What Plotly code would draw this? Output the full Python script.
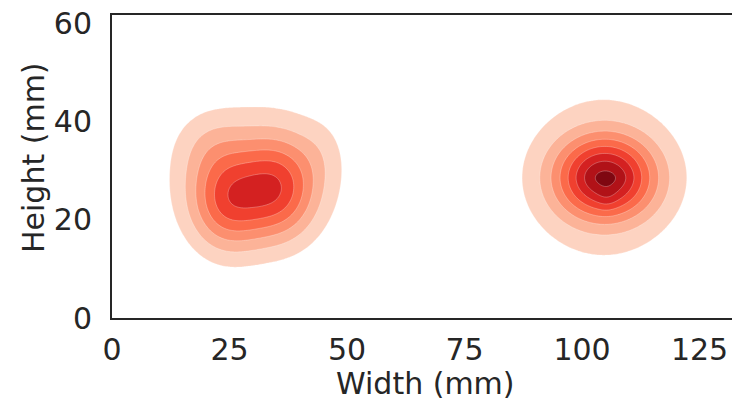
import numpy as np
import plotly.graph_objects as go

# ---- data: Gaussian components describing the two density clusters ----
# units: x = Width (mm), y = Height (mm); amplitude in contour-level units (level k = k)
comp_x = [30.5, 24.5, 35.5, 20.5, 44.5, 104.4, 104.9, 105.3, 105.3]
comp_y = [28.8, 23.5, 26.0, 35.5, 34.0, 28.8, 28.6, 28.6, 24.6]
comp_sx = [11.5, 5.5, 5.5, 5.0, 3.5, 13.5, 7.5, 3.0, 1.5]
comp_sy = [9.5, 7.0, 7.0, 5.0, 5.0, 16.0, 6.0, 1.2, 2.0]
comp_amp = [2.5, 3.5, 3.5, 0.7, 0.45, 1.3, 6.7, 0.35, 0.35]

x_ticks = [0, 25, 50, 75, 100, 125]
y_ticks = [0, 20, 40, 60]
x_title = "Width (mm)"
y_title = "Height (mm)"
level_count = 8
band_colors = ["#ffffff", "#fdd3c1", "#fcb398", "#fc8f6f", "#fb6a4a",
               "#f0402f", "#d42121", "#b11218", "#7f0711"]

gx = np.arange(0, 132.01, 0.4)
gy = np.arange(0, 62.01, 0.4)
XX, YY = np.meshgrid(gx, gy)
Z = np.zeros_like(XX)
for mx, my, sx, sy, a in zip(comp_x, comp_y, comp_sx, comp_sy, comp_amp):
    Z += a * np.exp(-0.5 * (((XX - mx) / sx) ** 2 + ((YY - my) / sy) ** 2))

n = len(band_colors) - 1
colorscale = [[k / n, c] for k, c in enumerate(band_colors)]

fig = go.Figure(go.Contour(
    x=gx, y=gy, z=Z,
    contours=dict(start=1, end=level_count, size=1, coloring="fill", showlines=True),
    line=dict(width=0.6, color="rgba(255,255,255,0.45)", smoothing=1.0),
    colorscale=colorscale, showscale=False, hoverinfo="skip",
))

tick_font = dict(family="DejaVu Sans", size=30, color="#262626")
title_font = dict(family="DejaVu Sans", size=30, color="#262626")
W, H = 732, 403
ML, MR, MT, MB = 112, 0, 15, 85
pw, ph = W - ML - MR, H - MT - MB
fig.update_layout(
    width=W, height=H,
    margin=dict(l=ML, r=MR, t=MT, b=MB, autoexpand=False),
    paper_bgcolor="white", plot_bgcolor="white",
    font=tick_font,
    xaxis=dict(range=[0, 131.9], tickvals=x_ticks, showgrid=False, zeroline=False,
               showline=True, linecolor="#262626", linewidth=2, mirror=True,
               ticks="outside", ticklen=4, tickcolor="rgba(0,0,0,0)", tickfont=tick_font),
    yaxis=dict(range=[0, 61.8], tickvals=y_ticks, showgrid=False, zeroline=False,
               showline=True, linecolor="#262626", linewidth=2, mirror=False,
               ticks="outside", ticklen=12, tickcolor="rgba(0,0,0,0)", tickfont=tick_font),
    annotations=[
        dict(text=x_title, xref="paper", yref="paper", showarrow=False,
             x=(425 - ML) / pw, y=-(402 - (H - MB)) / ph,
             xanchor="center", yanchor="bottom", font=title_font, borderpad=0),
        dict(text=y_title, xref="paper", yref="paper", showarrow=False, textangle=-90,
             x=(33 - ML) / pw, y=((H - MB) - 158) / ph,
             xanchor="center", yanchor="middle", font=title_font),
    ],
)
fig.write_html("out.html")
